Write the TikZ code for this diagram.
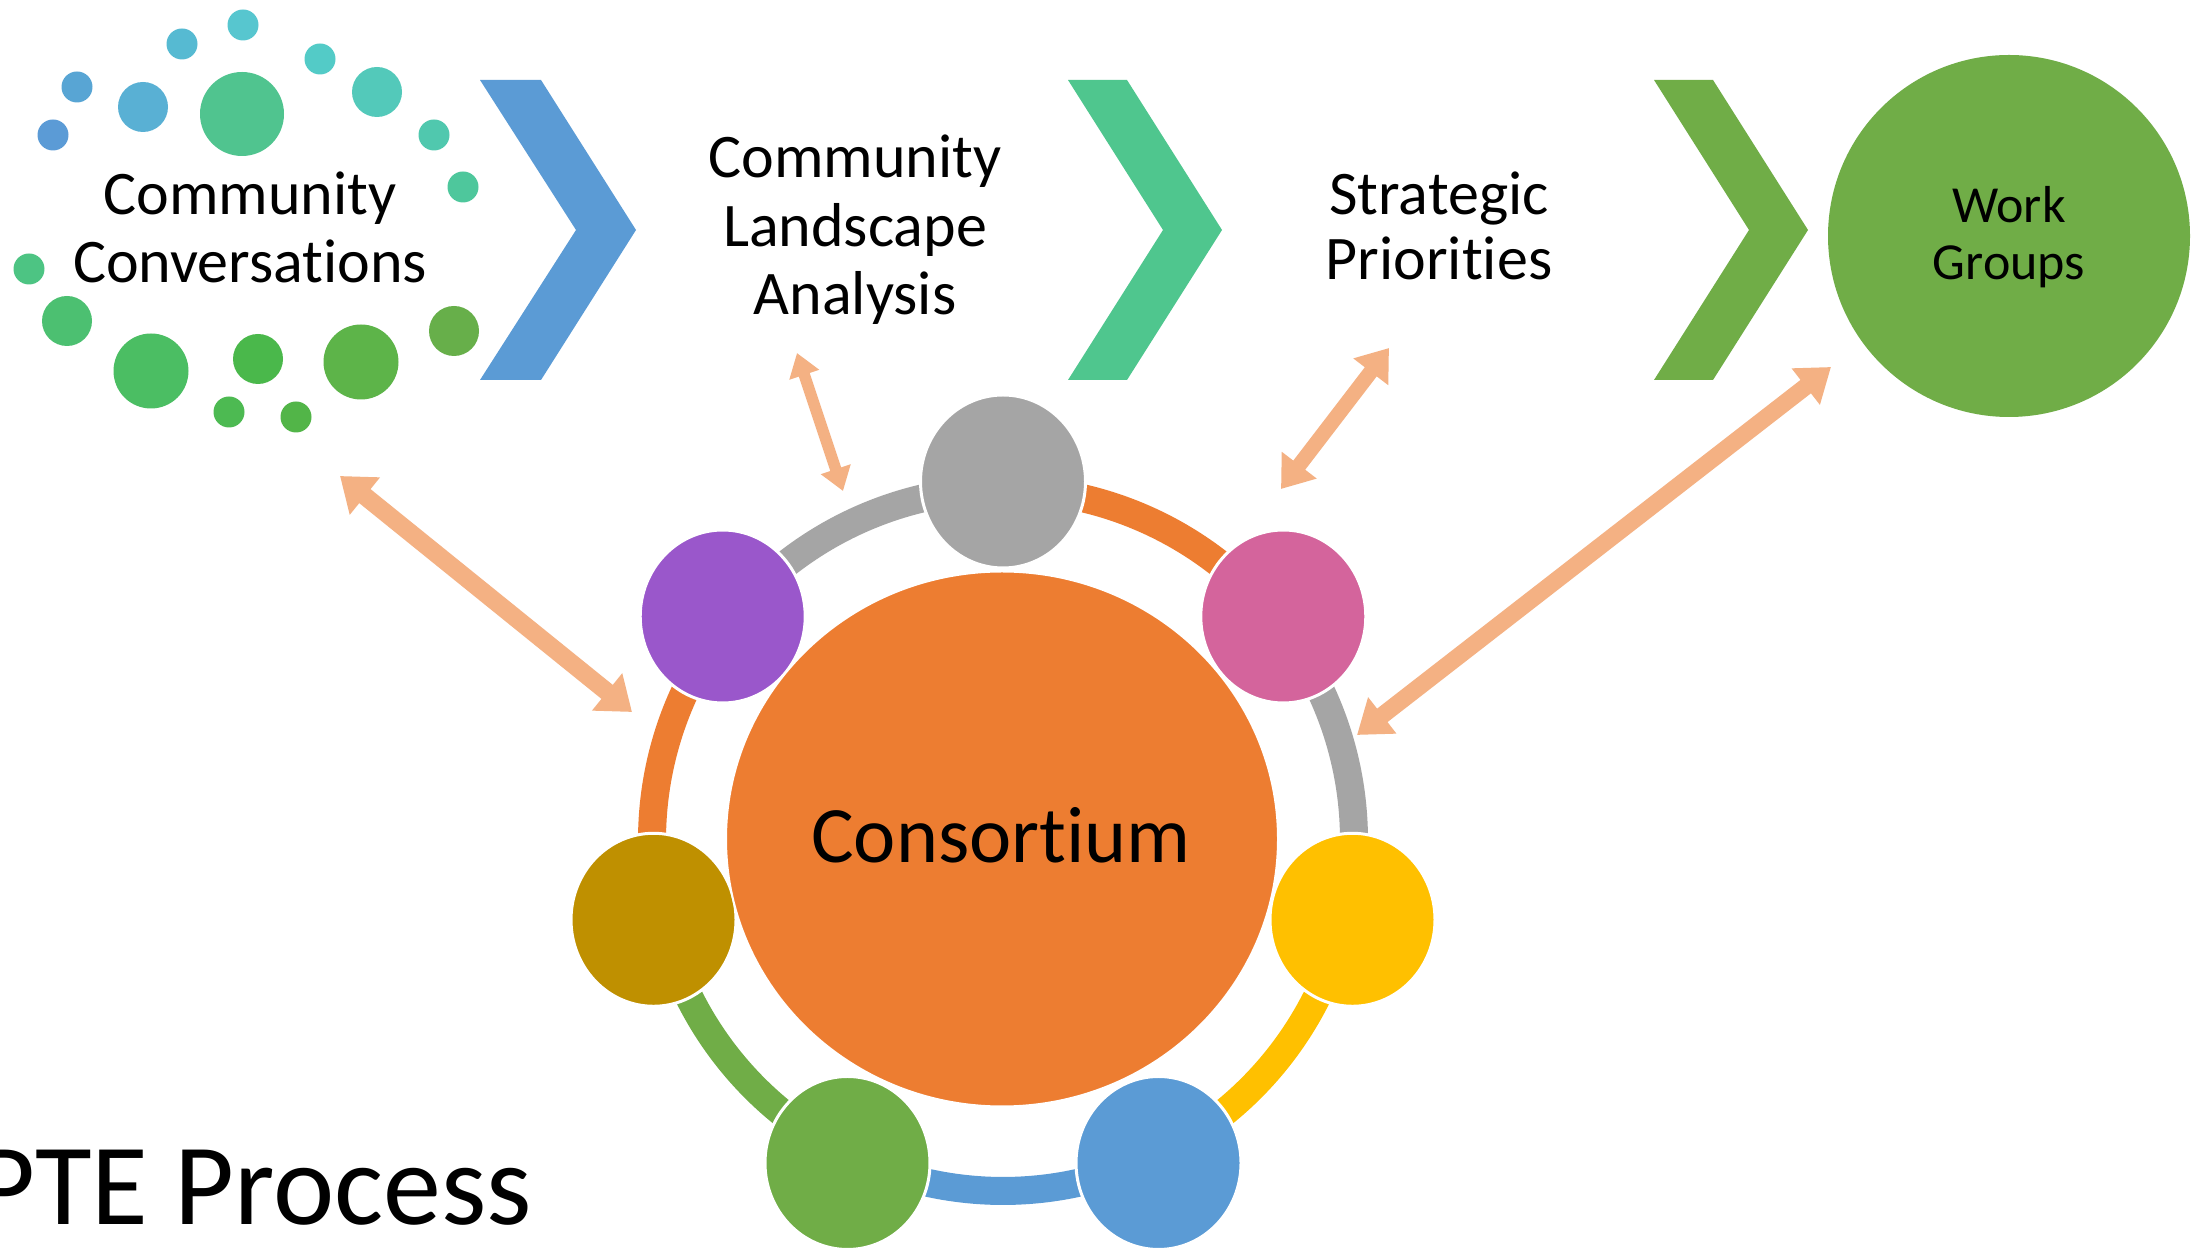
\documentclass[tikz,border=0pt]{standalone}
\usepackage{fontspec}
\setmainfont{Carlito}[Ligatures={NoCommon,NoContextual}]
\usetikzlibrary{shapes.geometric,arrows.meta}
\definecolor{corange}{HTML}{ED7D31}
\definecolor{cgray}{HTML}{A5A5A5}
\definecolor{cpurple}{HTML}{9A57CB}
\definecolor{cpink}{HTML}{D4649C}
\definecolor{cgold}{HTML}{BF9000}
\definecolor{cyellow}{HTML}{FFC000}
\definecolor{cgreen}{HTML}{70AD47}
\definecolor{cblue}{HTML}{5B9BD5}
\definecolor{cteal}{HTML}{4FC68E}
\definecolor{peach}{HTML}{F4B183}
\tikzset{
  lbl/.style={font=\fontsize{62}{68}\selectfont, inner sep=0pt, anchor=base},
  wglbl/.style={font=\fontsize{52}{57}\selectfont, inner sep=0pt, anchor=base},
  seat/.style={ellipse, minimum width=165pt, minimum height=173pt, inner sep=0pt, draw=white, line width=3pt},
  band/.style={line width=28pt},
  link/.style={draw=peach, line cap=butt}
}
\begin{document}
\begin{tikzpicture}[x=1pt,y=1pt]
\useasboundingbox (0,0) rectangle (2203,1248);
\fill[white] (0,0) rectangle (2203,1248);
\coordinate (O) at (1003,408);

% dots around Community Conversations
\foreach \x/\y/\r/\c in {243/1223/15.5/57C6CF, 182/1204/15.5/56BAD2, 320/1189/15.5/53CBC7,
  77/1161/15.5/58A5D4, 143/1141/25/59B0D4, 242/1134/42/50C48F, 377/1156/25/53C9BA,
  53/1113/15.5/5B9BD6, 434/1113/15.5/50C8AE, 463/1061/15.5/4EC79C, 29/979/15.5/4DC483,
  67/927/25/4CC071, 151/877/37.5/4BBE63, 258/889/25/4AB84B, 361/886/37.5/5DB449,
  454/917/25/67AF4A, 229/836/15.5/4DBA52, 296/831/15.5/52B548}{
  \definecolor{dc}{HTML}{\c}
  \fill[dc] (\x,\y) circle[radius=\r];
}

% chevrons
\fill[cblue] (480,1168) -- (541,1168) -- (636,1018) -- (541,868) -- (480,868) -- (576,1018) -- cycle;
\fill[cteal] (1068,1168) -- (1127,1168) -- (1222,1018) -- (1127,868) -- (1068,868) -- (1163,1018) -- cycle;
\fill[cgreen] (1654,1168) -- (1713,1168) -- (1808,1018) -- (1713,868) -- (1654,868) -- (1749,1018) -- cycle;

% ring bands
\draw[band, cgray]   ([shift={(141.43:351)}]O) arc[start angle=141.43, end angle=90, radius=351];
\draw[band, corange] ([shift={(90:351)}]O) arc[start angle=90, end angle=38.57, radius=351];
\draw[band, cgray]   ([shift={(38.57:351)}]O) arc[start angle=38.57, end angle=-12.86, radius=351];
\draw[band, cyellow] ([shift={(-12.86:351)}]O) arc[start angle=-12.86, end angle=-64.29, radius=351];
\draw[band, cblue]   ([shift={(-64.29:351)}]O) arc[start angle=-64.29, end angle=-115.71, radius=351];
\draw[band, cgreen]  ([shift={(-115.71:351)}]O) arc[start angle=-115.71, end angle=-167.14, radius=351];
\draw[band, corange] ([shift={(-167.14:351)}]O) arc[start angle=-167.14, end angle=-218.57, radius=351];

% seats
\node[seat, fill=cgray]   (s1) at ([shift={(90:358.5)}]O) {};
\node[seat, fill=cpink]   (s2) at ([shift={(38.57:358.5)}]O) {};
\node[seat, fill=cyellow] (s3) at ([shift={(-12.86:358.5)}]O) {};
\node[seat, fill=cblue]   (s4) at ([shift={(-64.29:358.5)}]O) {};
\node[seat, fill=cgreen]  (s5) at ([shift={(-115.71:358.5)}]O) {};
\node[seat, fill=cgold]   (s6) at ([shift={(-167.14:358.5)}]O) {};
\node[seat, fill=cpurple] (s7) at ([shift={(141.43:358.5)}]O) {};

% consortium
\node[ellipse, minimum width=552pt, minimum height=535pt, inner sep=0pt, fill=corange, draw=white, line width=2pt] (cons) at (1002,409) {};
\node[anchor=base, inner sep=0pt, font=\fontsize{80}{90}\selectfont] (constxt) at (1001,385) {Consort\kern0pt ium};

% work groups
\node[circle, minimum size=362pt, inner sep=0pt, fill=cgreen] (wg) at (2009,1012) {};
\node[wglbl] (wg1) at (2009,1025) {Work};
\node[wglbl] (wg2) at (2009,968) {Groups};

% labels
\node[lbl] (cc1) at (250,1033) {Community};
\node[lbl] (cc2) at (250,965) {Conversat\kern0pt ions};
\node[lbl] (la1) at (855,1070) {Community};
\node[lbl] (la2) at (855,1001) {Landscape};
\node[lbl] (la3) at (855,933) {Analysis};
\node[lbl] (sp1) at (1439,1033) {Strategic};
\node[lbl] (sp2) at (1439,968) {Priorit\kern0pt ies};

% title
\node[anchor=base east, inner sep=0pt, font=\fontsize{116}{124}\selectfont] (title) at (532,24) {PTE Process};

% double arrows
\coordinate (a1) at (340,772);  \coordinate (a2) at (632,536);
\coordinate (b1) at (797,895);  \coordinate (b2) at (843,757);
\coordinate (c1) at (1389,900); \coordinate (c2) at (1281,759);
\coordinate (d1) at (1831,881); \coordinate (d2) at (1357,513);
\draw[link, line width=18pt, {Triangle[width=46pt,length=32pt]}-{Triangle[width=46pt,length=32pt]}] (a1) -- (a2);
\draw[link, line width=11.5pt, {Triangle[width=30pt,length=23pt]}-{Triangle[width=30pt,length=23pt]}] (b1) -- (b2);
\draw[link, line width=15pt, {Triangle[width=42pt,length=30pt]}-{Triangle[width=42pt,length=30pt]}] (c1) -- (c2);
\draw[link, line width=17pt, {Triangle[width=44pt,length=32pt]}-{Triangle[width=44pt,length=32pt]}] (d1) -- (d2);
\end{tikzpicture}
\end{document}
